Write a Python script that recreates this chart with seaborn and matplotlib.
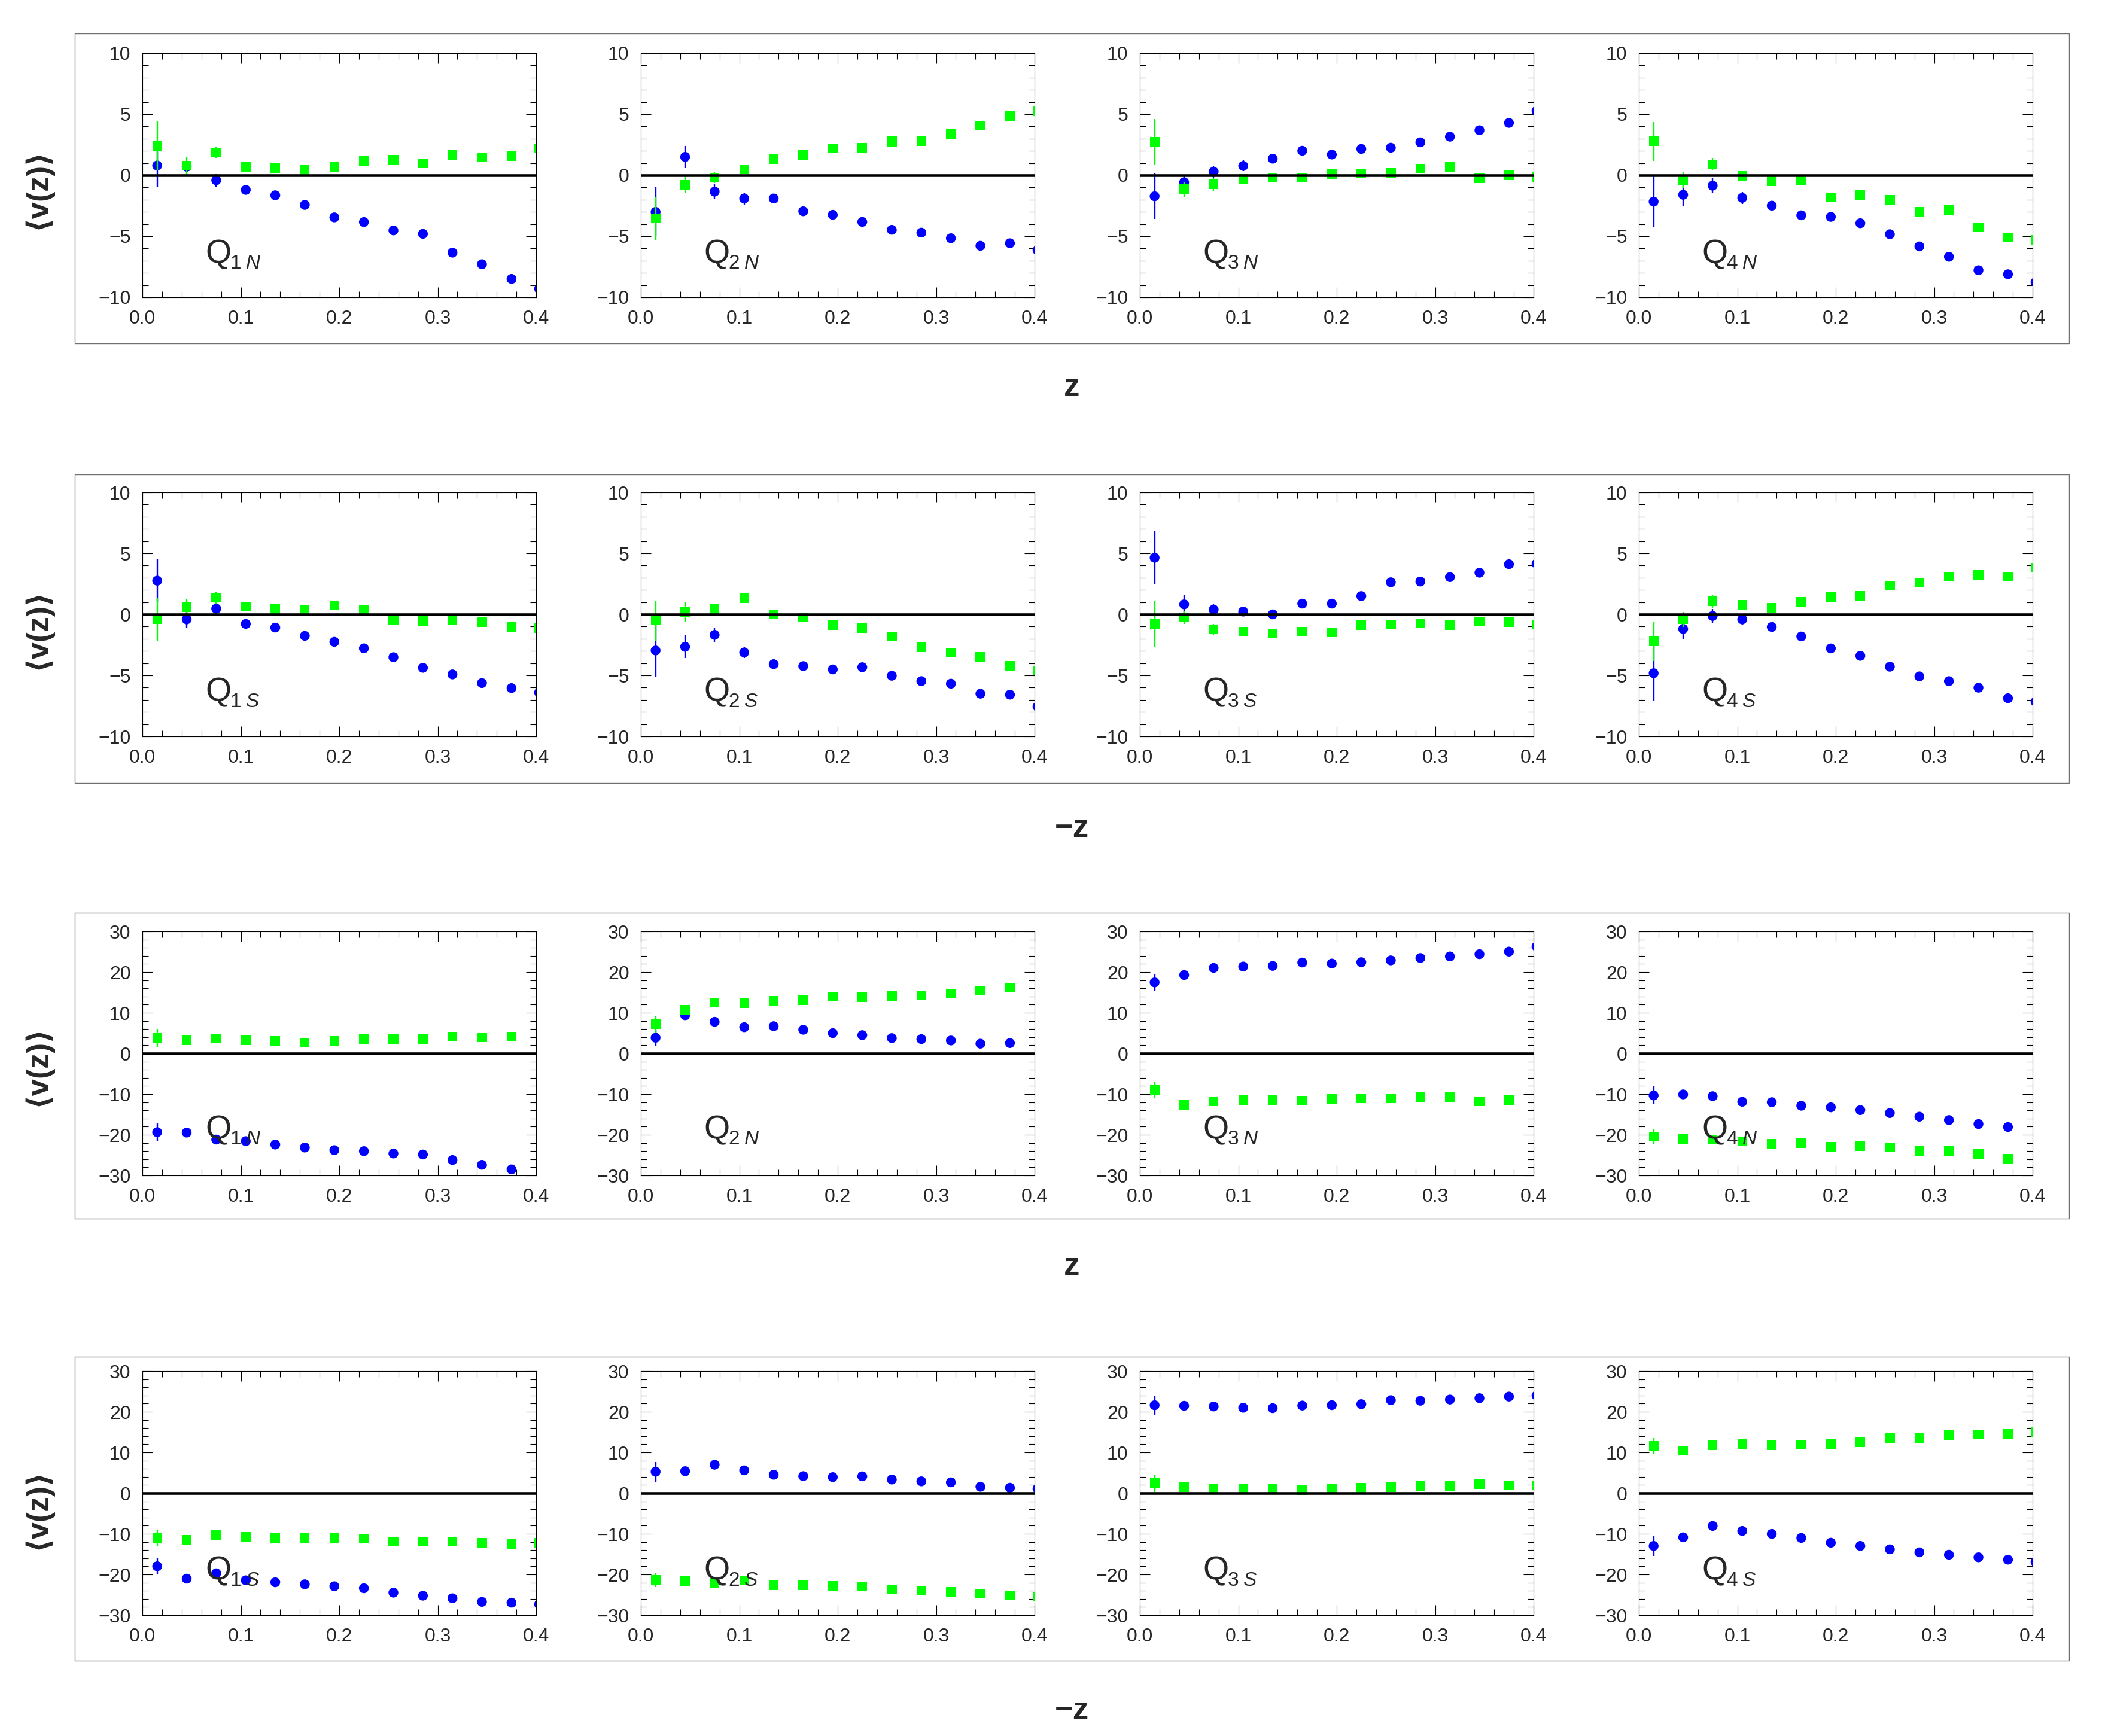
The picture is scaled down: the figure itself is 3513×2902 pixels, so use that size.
import numpy as np
import pandas as pd
import matplotlib
matplotlib.use("Agg")
import matplotlib.pyplot as plt
from matplotlib.patches import Rectangle
from matplotlib.ticker import MultipleLocator, FormatStrFormatter
import seaborn as sns

# bin centres (last one sits just past the frame edge and gets clipped)
z = [0.015, 0.045, 0.075, 0.105, 0.135, 0.165, 0.195, 0.225, 0.255, 0.285, 0.315, 0.345, 0.375, 0.403]
nan = np.nan

quadrants = ["1", "2", "3", "4"]

# ---- row 1 : z, north, range +-10
r1_q1_blue = [0.8, 0.7, -0.41, -1.2, -1.64, -2.43, -3.45, -3.83, -4.52, -4.8, -6.34, -7.29, -8.49, -9.3]
r1_q1_green = [2.41, 0.77, 1.87, 0.66, 0.61, 0.44, 0.69, 1.18, 1.26, 0.98, 1.67, 1.47, 1.56, 2.2]
r1_q2_blue = [-3.0, 1.51, -1.34, -1.9, -1.9, -2.95, -3.24, -3.82, -4.47, -4.7, -5.16, -5.78, -5.57, -6.14]
r1_q2_green = [-3.52, -0.77, -0.2, 0.49, 1.31, 1.69, 2.21, 2.24, 2.77, 2.78, 3.36, 4.05, 4.88, 5.27]
r1_q3_blue = [-1.72, -0.57, 0.29, 0.77, 1.36, 2.01, 1.7, 2.16, 2.26, 2.7, 3.16, 3.69, 4.29, 5.28]
r1_q3_green = [2.74, -1.15, -0.74, -0.28, -0.21, -0.18, 0.08, 0.13, 0.21, 0.52, 0.66, -0.25, 0.02, -0.16]
r1_q4_blue = [-2.16, -1.6, -0.85, -1.85, -2.49, -3.28, -3.41, -3.93, -4.83, -5.83, -6.68, -7.78, -8.11, -8.76]
r1_q4_green = [2.78, -0.41, 0.9, -0.03, -0.49, -0.44, -1.83, -1.59, -2.01, -2.98, -2.82, -4.26, -5.11, -5.3]

r1_q1_blue_err = [1.8, 0.3, 0.5, 0.3, 0.3, 0.3, 0.3, 0.3, 0.3, 0.3, 0.3, 0.3, 0.3, 0.3]
r1_q1_green_err = [2.0, 0.7, 0.45, 0.3, 0.3, 0.3, 0.3, 0.3, 0.3, 0.3, 0.3, 0.3, 0.3, 0.3]
r1_q2_blue_err = [2.0, 0.9, 0.6, 0.5, 0.3, 0.3, 0.3, 0.3, 0.3, 0.3, 0.3, 0.3, 0.3, 0.3]
r1_q2_green_err = [1.75, 0.7, 0.45, 0.3, 0.3, 0.3, 0.3, 0.3, 0.3, 0.3, 0.3, 0.3, 0.3, 0.3]
r1_q3_blue_err = [1.85, 0.6, 0.5, 0.45, 0.3, 0.3, 0.3, 0.3, 0.3, 0.3, 0.3, 0.3, 0.3, 0.3]
r1_q3_green_err = [1.87, 0.6, 0.55, 0.4, 0.3, 0.3, 0.3, 0.3, 0.3, 0.3, 0.3, 0.3, 0.3, 0.3]
r1_q4_blue_err = [2.1, 0.9, 0.6, 0.5, 0.3, 0.3, 0.3, 0.3, 0.3, 0.3, 0.3, 0.3, 0.3, 0.3]
r1_q4_green_err = [1.6, 0.65, 0.5, 0.3, 0.3, 0.3, 0.3, 0.3, 0.3, 0.3, 0.3, 0.3, 0.3, 0.3]

# ---- row 2 : -z, south, range +-10
r2_q1_blue = [2.76, -0.41, 0.47, -0.78, -1.08, -1.76, -2.25, -2.78, -3.51, -4.38, -4.92, -5.63, -6.04, -6.4]
r2_q1_green = [-0.41, 0.57, 1.37, 0.65, 0.44, 0.36, 0.73, 0.41, -0.51, -0.54, -0.46, -0.65, -1.04, -1.1]
r2_q2_blue = [-2.96, -2.66, -1.68, -3.12, -4.08, -4.24, -4.51, -4.33, -5.03, -5.47, -5.68, -6.5, -6.58, -7.56]
r2_q2_green = [-0.51, 0.2, 0.44, 1.34, -0.02, -0.26, -0.87, -1.11, -1.81, -2.69, -3.12, -3.48, -4.21, -4.59]
r2_q3_blue = [4.64, 0.82, 0.39, 0.23, 0.0, 0.88, 0.88, 1.5, 2.63, 2.69, 3.05, 3.41, 4.11, 4.16]
r2_q3_green = [-0.78, -0.26, -1.22, -1.44, -1.55, -1.44, -1.49, -0.87, -0.82, -0.73, -0.87, -0.57, -0.62, -0.82]
r2_q4_blue = [-4.82, -1.19, -0.13, -0.41, -1.03, -1.81, -2.79, -3.4, -4.29, -5.08, -5.47, -6.01, -6.87, -7.15]
r2_q4_green = [-2.22, -0.41, 1.06, 0.77, 0.56, 1.04, 1.42, 1.53, 2.37, 2.61, 3.09, 3.25, 3.09, 3.84]

r2_q1_blue_err = [1.8, 0.67, 0.4, 0.3, 0.3, 0.3, 0.3, 0.3, 0.3, 0.3, 0.3, 0.3, 0.3, 0.3]
r2_q1_green_err = [1.75, 0.65, 0.5, 0.3, 0.3, 0.3, 0.3, 0.3, 0.3, 0.3, 0.3, 0.3, 0.3, 0.3]
r2_q2_blue_err = [2.2, 0.94, 0.6, 0.45, 0.3, 0.3, 0.3, 0.3, 0.3, 0.3, 0.3, 0.3, 0.3, 0.3]
r2_q2_green_err = [1.65, 0.8, 0.4, 0.3, 0.3, 0.3, 0.3, 0.3, 0.3, 0.3, 0.3, 0.3, 0.3, 0.3]
r2_q3_blue_err = [2.2, 0.8, 0.5, 0.4, 0.3, 0.3, 0.3, 0.3, 0.3, 0.3, 0.3, 0.3, 0.3, 0.3]
r2_q3_green_err = [1.9, 0.5, 0.45, 0.3, 0.3, 0.3, 0.3, 0.3, 0.3, 0.3, 0.3, 0.3, 0.3, 0.3]
r2_q4_blue_err = [2.3, 0.87, 0.55, 0.4, 0.3, 0.3, 0.3, 0.3, 0.3, 0.3, 0.3, 0.3, 0.3, 0.3]
r2_q4_green_err = [1.6, 0.6, 0.5, 0.3, 0.3, 0.3, 0.3, 0.3, 0.3, 0.3, 0.3, 0.3, 0.3, 0.3]

# ---- row 3 : z, north, range +-30
r3_q1_blue = [-19.36, -19.46, -21.17, -21.56, -22.4, -23.13, -23.77, -24.01, -24.6, -24.84, -26.2, -27.38, -28.5, nan]
r3_q1_green = [3.77, 3.18, 3.67, 3.28, 3.03, 2.69, 3.03, 3.52, 3.52, 3.52, 4.16, 4.01, 4.16, nan]
r3_q2_blue = [3.86, 9.39, 7.78, 6.45, 6.7, 5.82, 4.99, 4.5, 3.77, 3.52, 3.18, 2.4, 2.54, nan]
r3_q2_green = [7.19, 10.71, 12.47, 12.32, 12.96, 13.15, 14.03, 13.89, 14.18, 14.28, 14.67, 15.5, 16.23, nan]
r3_q3_blue = [17.46, 19.27, 21.03, 21.37, 21.52, 22.35, 22.1, 22.44, 22.88, 23.47, 23.86, 24.4, 25.04, 26.3]
r3_q3_green = [-8.95, -12.62, -11.78, -11.54, -11.39, -11.64, -11.25, -11.0, -11.0, -10.81, -10.81, -11.74, -11.39, nan]
r3_q4_blue = [-10.32, -10.07, -10.51, -11.88, -11.98, -12.86, -13.25, -13.94, -14.67, -15.55, -16.38, -17.36, -18.09, nan]
r3_q4_green = [-20.44, -21.08, -21.17, -21.56, -22.15, -22.05, -22.88, -22.74, -23.03, -23.96, -23.96, -24.69, -25.92, nan]

r3_q1_blue_err = [2.1, 0.8, 0.8, 0.8, 0.8, 0.8, 0.8, 0.8, 0.8, 0.8, 0.8, 0.8, 0.8, nan]
r3_q1_green_err = [2.2, 0.8, 0.8, 0.8, 0.8, 0.8, 0.8, 0.8, 0.8, 0.8, 0.8, 0.8, 0.8, nan]
r3_q2_blue_err = [2.0, 0.8, 0.8, 0.8, 0.8, 0.8, 0.8, 0.8, 0.8, 0.8, 0.8, 0.8, 0.8, nan]
r3_q2_green_err = [2.0, 0.8, 0.8, 0.8, 0.8, 0.8, 0.8, 0.8, 0.8, 0.8, 0.8, 0.8, 0.8, nan]
r3_q3_blue_err = [2.0, 0.8, 0.8, 0.8, 0.8, 0.8, 0.8, 0.8, 0.8, 0.8, 0.8, 0.8, 0.8, 0.8]
r3_q3_green_err = [2.1, 0.8, 0.8, 0.8, 0.8, 0.8, 0.8, 0.8, 0.8, 0.8, 0.8, 0.8, 0.8, nan]
r3_q4_blue_err = [2.2, 0.8, 0.8, 0.8, 0.8, 0.8, 0.8, 0.8, 0.8, 0.8, 0.8, 0.8, 0.8, nan]
r3_q4_green_err = [1.8, 0.8, 0.8, 0.8, 0.8, 0.8, 0.8, 0.8, 0.8, 0.8, 0.8, 0.8, 0.8, nan]

# ---- row 4 : -z, south, range +-30
r4_q1_blue = [-17.98, -21.03, -19.7, -21.43, -21.92, -22.41, -22.9, -23.39, -24.47, -25.21, -25.85, -26.73, -26.93, -27.3]
r4_q1_green = [-11.1, -11.5, -10.27, -10.76, -10.96, -11.1, -10.96, -11.2, -11.94, -11.94, -11.94, -12.19, -12.48, -12.2]
r4_q2_blue = [5.26, 5.4, 6.98, 5.6, 4.52, 4.18, 3.93, 4.13, 3.34, 2.9, 2.65, 1.57, 1.33, 1.1]
r4_q2_green = [-21.3, -21.6, -22.0, -21.5, -22.6, -22.6, -22.8, -23.0, -23.7, -23.98, -24.23, -24.72, -25.21, -25.4]
r4_q3_blue = [21.6, 21.47, 21.3, 20.98, 20.88, 21.52, 21.62, 21.87, 22.85, 22.7, 23.0, 23.34, 23.73, 23.98]
r4_q3_green = [2.46, 1.43, 0.98, 0.98, 0.98, 0.69, 1.18, 1.33, 1.47, 1.72, 1.72, 2.16, 1.97, 1.9]
r4_q4_blue = [-12.97, -10.86, -8.06, -9.29, -10.02, -11.01, -12.19, -12.97, -13.81, -14.55, -15.14, -15.77, -16.36, -16.9]
r4_q4_green = [11.6, 10.42, 11.84, 11.99, 11.74, 11.89, 12.14, 12.48, 13.46, 13.61, 14.2, 14.45, 14.59, 15.0]

r4_q1_blue_err = [2.0, 0.8, 0.8, 0.8, 0.8, 0.8, 0.8, 0.8, 0.8, 0.8, 0.8, 0.8, 0.8, 0.8]
r4_q1_green_err = [2.0, 0.8, 0.8, 0.8, 0.8, 0.8, 0.8, 0.8, 0.8, 0.8, 0.8, 0.8, 0.8, 0.8]
r4_q2_blue_err = [2.4, 0.8, 0.8, 0.8, 0.8, 0.8, 0.8, 0.8, 0.8, 0.8, 0.8, 0.8, 0.8, 0.8]
r4_q2_green_err = [1.8, 0.8, 0.8, 0.8, 0.8, 0.8, 0.8, 0.8, 0.8, 0.8, 0.8, 0.8, 0.8, 0.8]
r4_q3_blue_err = [2.4, 0.8, 0.8, 0.8, 0.8, 0.8, 0.8, 0.8, 0.8, 0.8, 0.8, 0.8, 0.8, 0.8]
r4_q3_green_err = [2.1, 0.8, 0.8, 0.8, 0.8, 0.8, 0.8, 0.8, 0.8, 0.8, 0.8, 0.8, 0.8, 0.8]
r4_q4_blue_err = [2.4, 0.8, 0.8, 0.8, 0.8, 0.8, 0.8, 0.8, 0.8, 0.8, 0.8, 0.8, 0.8, 0.8]
r4_q4_green_err = [1.9, 0.8, 0.8, 0.8, 0.8, 0.8, 0.8, 0.8, 0.8, 0.8, 0.8, 0.8, 0.8, 0.8]

row_blue = [
    [r1_q1_blue, r1_q2_blue, r1_q3_blue, r1_q4_blue],
    [r2_q1_blue, r2_q2_blue, r2_q3_blue, r2_q4_blue],
    [r3_q1_blue, r3_q2_blue, r3_q3_blue, r3_q4_blue],
    [r4_q1_blue, r4_q2_blue, r4_q3_blue, r4_q4_blue],
]
row_green = [
    [r1_q1_green, r1_q2_green, r1_q3_green, r1_q4_green],
    [r2_q1_green, r2_q2_green, r2_q3_green, r2_q4_green],
    [r3_q1_green, r3_q2_green, r3_q3_green, r3_q4_green],
    [r4_q1_green, r4_q2_green, r4_q3_green, r4_q4_green],
]
row_blue_err = [
    [r1_q1_blue_err, r1_q2_blue_err, r1_q3_blue_err, r1_q4_blue_err],
    [r2_q1_blue_err, r2_q2_blue_err, r2_q3_blue_err, r2_q4_blue_err],
    [r3_q1_blue_err, r3_q2_blue_err, r3_q3_blue_err, r3_q4_blue_err],
    [r4_q1_blue_err, r4_q2_blue_err, r4_q3_blue_err, r4_q4_blue_err],
]
row_green_err = [
    [r1_q1_green_err, r1_q2_green_err, r1_q3_green_err, r1_q4_green_err],
    [r2_q1_green_err, r2_q2_green_err, r2_q3_green_err, r2_q4_green_err],
    [r3_q1_green_err, r3_q2_green_err, r3_q3_green_err, r3_q4_green_err],
    [r4_q1_green_err, r4_q2_green_err, r4_q3_green_err, r4_q4_green_err],
]
row_xlabel = ["z", "\u2212z", "z", "\u2212z"]
row_hemisphere = ["N", "S", "N", "S"]
row_ylim = [10, 10, 30, 30]
row_ymajor = [5, 5, 10, 10]
row_yminor = [1, 1, 2, 2]

sns.set_style("white")
plt.rcParams["font.family"] = ["Liberation Sans", "DejaVu Sans"]
plt.rcParams["mathtext.fontset"] = "custom"
plt.rcParams["mathtext.rm"] = "Liberation Sans"
plt.rcParams["mathtext.it"] = "Liberation Sans:italic"

W, H = 3513, 2902
fig = plt.figure(figsize=(W / 100, H / 100), dpi=100)
fig.patch.set_facecolor("white")

BLUE = "#0000ff"
GREEN = "#00ff00"

# pixel layout (top origin)
panel_left = [238, 1071, 1905, 2739]
panel_w = 658
axes_top = [89, 823, 1557, 2292]
axes_h = 408
box_top = [56, 793, 1526, 2268]
box_bot = [574, 1309, 2037, 2776]
box_left, box_right = 125, 3458
xlabel_y = [648, 1385, 2117, 2860]
qlabel_y = [0.142, 0.145, 0.152, 0.145]

for r in range(4):
    # grey frame around each row
    fig.add_artist(Rectangle((box_left / W, 1 - box_bot[r] / H),
                             (box_right - box_left) / W, (box_bot[r] - box_top[r]) / H,
                             transform=fig.transFigure, fill=False,
                             edgecolor="#707070", linewidth=1.0))
    fig.text(63 / W, 1 - (box_top[r] + box_bot[r]) / 2 / H, "\u27e8v(z)\u27e9",
             rotation=90, ha="center", va="center", fontsize=37, fontweight="bold",
             family=["Liberation Sans", "DejaVu Sans"])
    fig.text((box_left + box_right) / 2 / W, 1 - xlabel_y[r] / H, row_xlabel[r],
             ha="center", va="center", fontsize=38, fontweight="bold")

    lim = row_ylim[r]
    for c in range(4):
        ax = fig.add_axes([panel_left[c] / W, 1 - (axes_top[r] + axes_h) / H,
                           panel_w / W, axes_h / H])
        df = pd.DataFrame({"z": z, "blue": row_blue[r][c], "green": row_green[r][c],
                           "blue_err": row_blue_err[r][c], "green_err": row_green_err[r][c]})

        ax.errorbar(df["z"], df["blue"], yerr=df["blue_err"], fmt="none",
                    ecolor=BLUE, elinewidth=1.7, capsize=0, zorder=2)
        sns.scatterplot(data=df, x="z", y="blue", ax=ax, marker="o", s=140,
                        color=BLUE, edgecolor="none", linewidth=0, legend=False, zorder=3)
        ax.errorbar(df["z"], df["green"], yerr=df["green_err"], fmt="none",
                    ecolor=GREEN, elinewidth=1.7, capsize=0, zorder=4)
        sns.scatterplot(data=df, x="z", y="green", ax=ax, marker="s", s=135,
                        color=GREEN, edgecolor="none", linewidth=0, legend=False, zorder=5)

        ax.axhline(0, color="black", linewidth=3.3, zorder=6)

        ax.set_xlim(0, 0.4)
        ax.set_ylim(-lim, lim)
        ax.xaxis.set_major_locator(MultipleLocator(0.1))
        ax.xaxis.set_minor_locator(MultipleLocator(0.02))
        ax.xaxis.set_major_formatter(FormatStrFormatter("%.1f"))
        ax.yaxis.set_major_locator(MultipleLocator(row_ymajor[r]))
        ax.yaxis.set_minor_locator(MultipleLocator(row_yminor[r]))
        ax.tick_params(which="both", direction="in", top=True, right=True,
                       bottom=True, left=True, width=0.8, color="black")
        ax.tick_params(which="major", length=12, labelsize=23)
        ax.tick_params(which="minor", length=7.5)
        ax.tick_params(axis="x", which="major", pad=15)
        ax.tick_params(axis="y", which="major", pad=14)
        for s in ax.spines.values():
            s.set_visible(True)
            s.set_color("black")
            s.set_linewidth(0.8)
        ax.set_xlabel("")
        ax.set_ylabel("")
        ax.set_facecolor("white")

        ax.text(0.16, qlabel_y[r], "Q", transform=ax.transAxes, fontsize=40,
                ha="left", va="baseline", zorder=7)
        ax.text(0.222, qlabel_y[r] - 0.024, r"$1\;N$".replace("1", quadrants[c]).replace("N", row_hemisphere[r]),
                transform=ax.transAxes, fontsize=24, ha="left", va="baseline", zorder=7)

fig.savefig("out.png", dpi=100, facecolor="white")
